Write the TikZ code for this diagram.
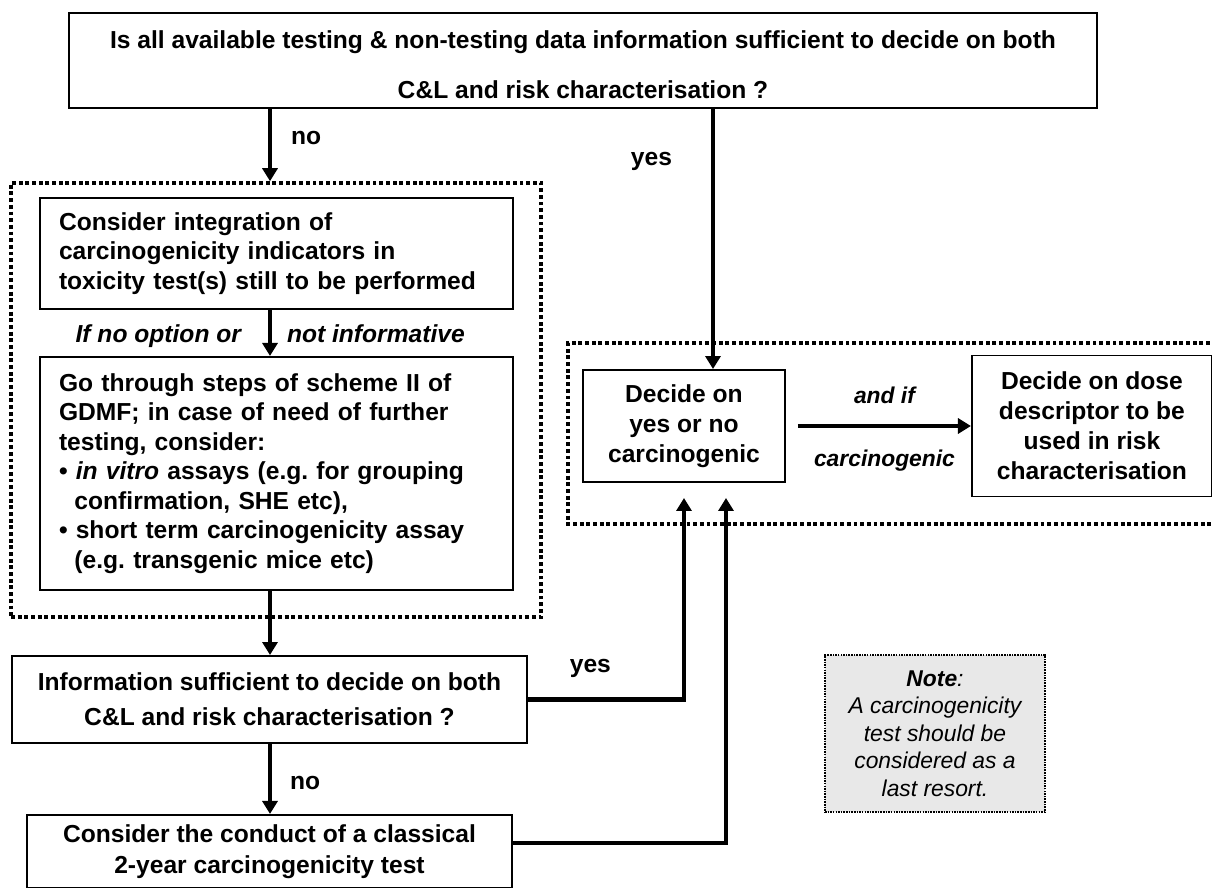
\documentclass[tikz,border=0pt]{standalone}
\usepackage{fontspec}
\setmainfont{Liberation Sans}
\usepackage{xcolor}
\usepackage{tikz}
\usetikzlibrary{arrows.meta, positioning, calc}
\definecolor{notegray}{RGB}{232,232,232}
\frenchspacing

\begin{document}
\begin{tikzpicture}[
  box/.style={rectangle, draw, line width=1.1pt, align=center, inner sep=0pt, font=\bfseries\fontsize{14}{17}\selectfont},
  stepbox/.style={rectangle, draw, line width=1.1pt, align=left, text width=8.7cm, inner xsep=0.38cm, inner ysep=0pt, minimum width=9.46cm, font=\bfseries\fontsize{14}{16.8}\selectfont},
  group/.style={draw, line width=2pt, dash pattern=on 2.2pt off 1.6pt, inner sep=0pt},
  note/.style={rectangle, draw, fill=notegray, line width=0.85pt, dash pattern=on 0.9pt off 0.6pt, align=center, minimum width=4.4cm, minimum height=3.14cm, font=\itshape\fontsize{13}{15.6}\selectfont},
  arrow/.style={line width=2.3pt, -{Triangle[length=0.26cm, width=0.3cm]}},
  lbl/.style={inner sep=0pt, font=\bfseries\fontsize{14}{17}\selectfont},
  ilbl/.style={inner sep=0pt, text height=1.6ex, text depth=0.5ex, font=\bfseries\itshape\fontsize{14}{17}\selectfont}
]
  \useasboundingbox (0,0) rectangle (24.24,-17.76);
  \coordinate (axis) at (5.4,0);
  \coordinate (yescol) at (14.26,0);
  \coordinate (up1) at (13.68,-9.96);
  \coordinate (up2) at (14.52,-9.96);

  \node[box, minimum width=20.56cm, minimum height=1.9cm, font=\bfseries\fontsize{14}{28.45}\selectfont] (top) at (11.66,-1.21) {\rule{0pt}{0.54cm}Is all available testing \& non-testing data information sufficient to decide on both\\C\&L and risk characterisation ?};
  \node[group, minimum width=10.6cm, minimum height=8.68cm] (grpA) at (5.52,-8.0) {};
  \node[stepbox, minimum height=2.22cm] (cons1) at (5.53,-5.07) {Consider integration of\\carcinogenicity indicators in\\toxicity test(s) still to be performed};
  \node[stepbox, minimum height=4.66cm, below=0.92cm of cons1] (cons2) {Go through steps of scheme II of\\GDMF; in case of need of further\\testing, consider:\\• \textit{in vitro} assays (e.g. for grouping\\\hspace*{0.31cm}confirmation, SHE etc),\\• short term carcinogenicity assay\\\hspace*{0.31cm}(e.g. transgenic mice etc)};
  \node[box, minimum width=10.3cm, minimum height=1.74cm, font=\bfseries\fontsize{14}{19.9}\selectfont] (suff) at (5.39,-13.99) {Information sufficient to decide on both\\C\&L and risk characterisation ?};
  \node[box, minimum width=9.7cm, minimum height=1.46cm, below=1.4cm of suff, font=\bfseries\fontsize{14}{17.6}\selectfont] (classic) {Consider the conduct of a classical\\2-year carcinogenicity test};
  \draw[group] (24.6,-6.86) -- (11.36,-6.86) -- (11.36,-10.48) -- (24.6,-10.48);
  \node[box, minimum width=4.04cm, minimum height=2.24cm] (decide) at (13.68,-8.52) {Decide on\\yes or no\\carcinogenic};
  \node[box, minimum width=4.8cm, minimum height=2.82cm, right=3.7cm of decide] (dose) {Decide on dose\\descriptor to be\\used in risk\\characterisation};
  \node[note] (note) at (18.7,-14.67) {\textbf{Note}:\\A carcinogenicity\\test should be\\considered as a\\last resort.};

  \draw[arrow] (top.south -| axis) -- node[lbl, pos=0.4, right=0.38cm] (no1) {no} (grpA.north -| axis);
  \draw[arrow] (top.south -| yescol) -- node[lbl, pos=0.2, left=0.78cm] (yes1) {yes} (decide.north -| yescol);
  \draw[arrow] (cons1.south -| axis) -- node[ilbl, pos=0.6, left=0.54cm] (opt) {If no option or} node[ilbl, pos=0.6, right=0.3cm] (inf) {not informative} (cons2.north -| axis);
  \draw[arrow] (cons2.south -| axis) -- (suff.north -| axis);
  \draw[arrow] (suff.south -| axis) -- node[lbl, pos=0.56, right=0.36cm] (no2) {no} (classic.north -| axis);
  \draw[arrow] (suff.east) -| node[lbl, pos=0.2, above=0.39cm] (yes2) {yes} (up1);
  \draw[arrow] ([yshift=0.17cm]classic.east) -| (up2);
  \draw[arrow] ([xshift=0.24cm]decide.east) -- node[ilbl, font=\bfseries\itshape\fontsize{13}{15.6}\selectfont, above=0.32cm] (andif) {and if} node[ilbl, font=\bfseries\itshape\fontsize{13}{15.6}\selectfont, below=0.48cm] (carc) {carcinogenic} (dose.west);
\end{tikzpicture}
\end{document}
